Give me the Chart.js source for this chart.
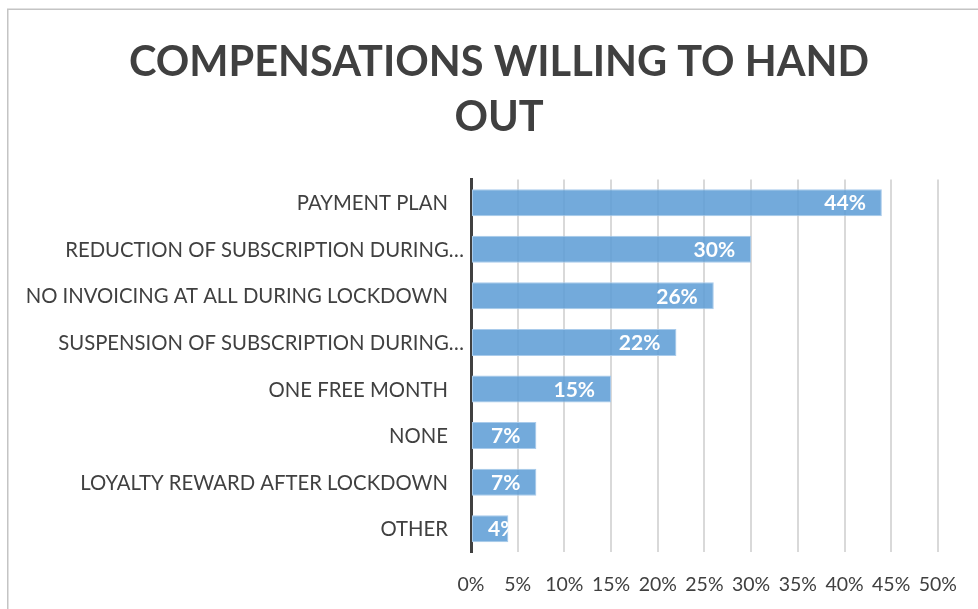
<!DOCTYPE html>
<html>
<head>
<meta charset="utf-8">
<title>Compensations willing to hand out</title>
<script src="https://cdn.jsdelivr.net/npm/chart.js@4/dist/chart.umd.min.js"></script>
<style>
  html, body { margin: 0; padding: 0; background: #ffffff; }
  #wrap { width: 978px; height: 609px; position: relative; }
  canvas { display: block; }
</style>
</head>
<body>
<div id="wrap"><canvas id="chart" width="978" height="609"></canvas></div>
<script>
// Chart content
const titleLines = ['COMPENSATIONS WILLING TO HAND', 'OUT'];
const categories = [
  'PAYMENT PLAN',
  'REDUCTION OF SUBSCRIPTION DURING…',
  'NO INVOICING AT ALL DURING LOCKDOWN',
  'SUSPENSION OF SUBSCRIPTION DURING…',
  'ONE FREE MONTH',
  'NONE',
  'LOYALTY REWARD AFTER LOCKDOWN',
  'OTHER'
];
const shares = [44, 30, 26, 22, 15, 7, 7, 4];
const xTickValues = [0, 5, 10, 15, 20, 25, 30, 35, 40, 45, 50];

const FONT = 'Lato, "Open Sans", sans-serif';
const TEXT_COLOR = '#404040';

// Light frame along the top and left edges
const framePlugin = {
  id: 'frame',
  beforeDraw(chart) {
    const ctx = chart.ctx;
    ctx.save();
    ctx.strokeStyle = '#c4c4c4';
    ctx.lineWidth = 1.5;
    ctx.beginPath();
    ctx.moveTo(7.75, chart.height);
    ctx.lineTo(7.75, 9.25);
    ctx.lineTo(chart.width, 9.25);
    ctx.stroke();
    ctx.restore();
  }
};

// Category names right-aligned against the value axis
const categoryLabelPlugin = {
  id: 'categoryLabels',
  afterDraw(chart) {
    const { ctx, chartArea } = chart;
    const yScale = chart.scales.y;
    ctx.save();
    ctx.font = '20.3px ' + FONT;
    ctx.fillStyle = TEXT_COLOR;
    ctx.textAlign = 'right';
    ctx.textBaseline = 'middle';
    categories.forEach((name, i) => {
      const yPos = yScale.getPixelForValue(i);
      const gap = name.endsWith('…') ? 7 : 23;
      ctx.fillText(name, chartArea.left - gap, yPos + 1);
    });
    ctx.restore();
  }
};

// White value labels at the inner end of each bar, clipped to the bar
const valueLabelPlugin = {
  id: 'valueLabels',
  afterDatasetsDraw(chart) {
    const ctx = chart.ctx;
    const meta = chart.getDatasetMeta(0);
    ctx.save();
    ctx.font = 'bold 21px ' + FONT;
    ctx.fillStyle = '#ffffff';
    ctx.textAlign = 'left';
    ctx.textBaseline = 'middle';
    meta.data.forEach((bar, i) => {
      const { x, y, base, height } = bar.getProps(['x', 'y', 'base', 'height'], true);
      const text = shares[i] + '%';
      const w = ctx.measureText(text).width;
      const left = Math.max(x - 16 - w, base + 16);
      ctx.save();
      ctx.beginPath();
      ctx.rect(base, y - height / 2, x - base, height);
      ctx.clip();
      ctx.fillText(text, left, y + 1);
      ctx.restore();
    });
    ctx.restore();
  }
};

new Chart(document.getElementById('chart'), {
  type: 'bar',
  data: {
    labels: categories,
    datasets: [{
      data: shares,
      backgroundColor: 'rgba(91, 155, 213, 0.85)',
      borderColor: '#a9cbeb',
      borderWidth: 1,
      borderSkipped: false,
      barPercentage: 0.58,
      categoryPercentage: 1
    }]
  },
  options: {
    indexAxis: 'y',
    responsive: false,
    animation: false,
    devicePixelRatio: 1,
    layout: { padding: { left: 57, right: 37, top: 0, bottom: 0 } },
    plugins: {
      legend: { display: false },
      tooltip: { enabled: false },
      title: {
        display: true,
        text: titleLines,
        color: TEXT_COLOR,
        font: { family: FONT, size: 41.5, weight: 'bold', lineHeight: 1.33 },
        padding: { top: 35, bottom: 34 }
      }
    },
    scales: {
      x: {
        min: 0,
        max: 50,
        afterBuildTicks(scale) {
          scale.ticks = xTickValues.map(v => ({ value: v }));
        },
        afterFit(scale) { scale.height = 57; },
        border: { display: false },
        grid: {
          drawTicks: false,
          lineWidth: 2,
          color: c => (c.tick && c.tick.value === 0) ? 'rgba(0,0,0,0)' : '#d9d9d9'
        },
        ticks: {
          padding: 21,
          color: TEXT_COLOR,
          font: { family: FONT, size: 19.5 },
          maxRotation: 0,
          autoSkip: false,
          callback: v => v + '%'
        }
      },
      y: {
        afterFit(scale) { scale.width = 414; },
        grid: { display: false },
        border: { display: true, color: '#404040', width: 3 },
        ticks: { display: false }
      }
    }
  },
  plugins: [framePlugin, categoryLabelPlugin, valueLabelPlugin]
});
</script>
</body>
</html>
